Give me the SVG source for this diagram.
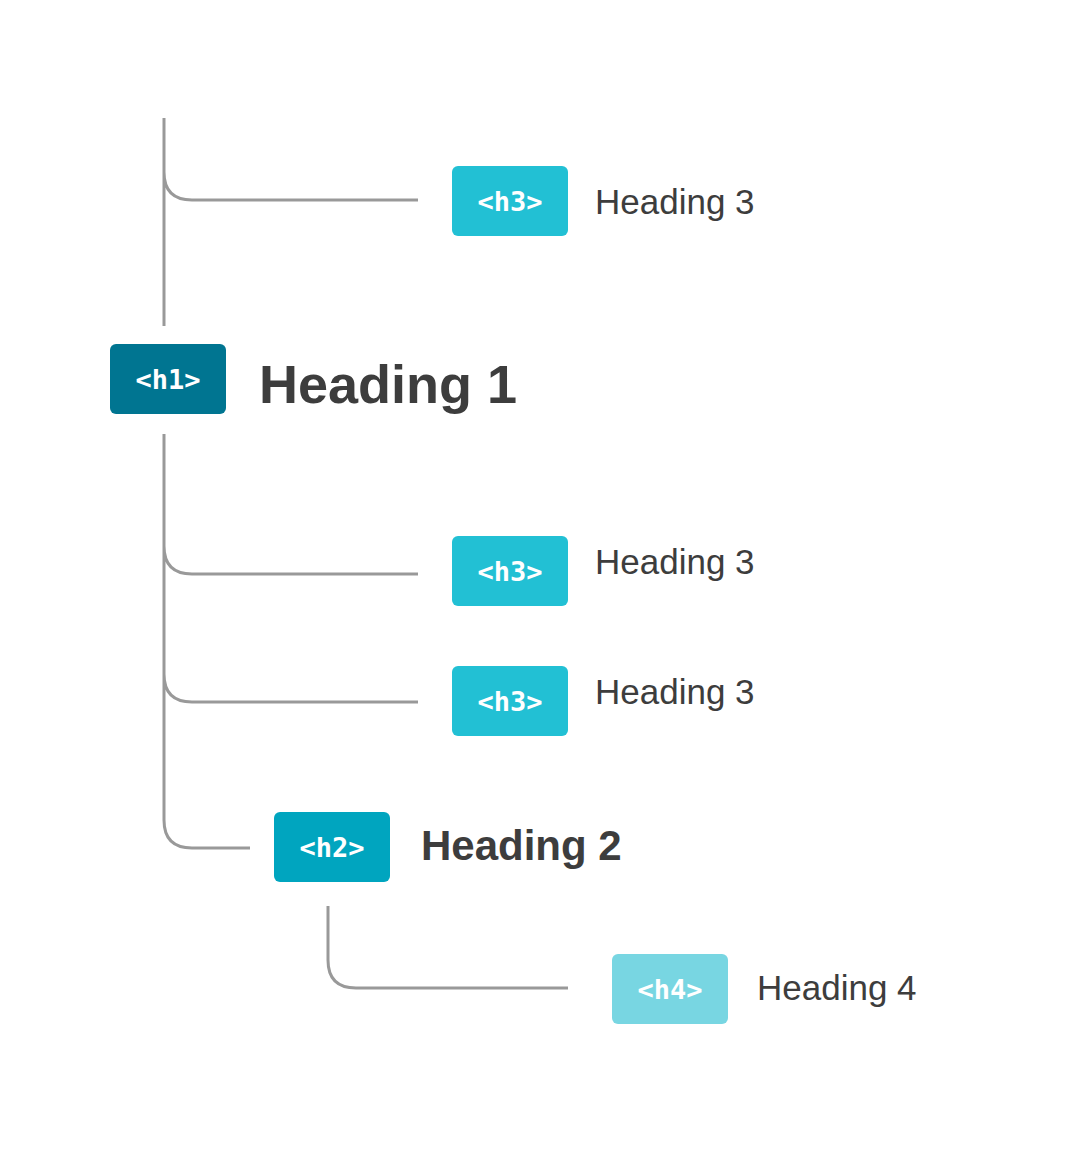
<svg xmlns="http://www.w3.org/2000/svg" width="1072" height="1174" viewBox="0 0 1072 1174">
<style>
.c{fill:none;stroke:#999;stroke-width:3}
.t{font-family:"DejaVu Sans Mono","Liberation Mono",monospace;font-weight:bold;font-size:27px;fill:#fff;text-anchor:middle}
.h{font-family:"Liberation Sans",Arial,sans-serif;fill:#3d3d3d}
</style>
<rect width="1072" height="1174" fill="#fff"/>
<g id="connectors">
<path class="c" d="M164 118V326M164 172Q164 200 192 200H418"/>
<path class="c" d="M164 434V820Q164 848 192 848H250M164 546Q164 574 192 574H418M164 674Q164 702 192 702H418"/>
<path class="c" d="M328 906V960Q328 988 356 988H568"/>
</g>
<g id="h1"><rect x="110" y="344" width="116" height="70" rx="6" fill="#007591"/><text class="t" x="168" y="389">&lt;h1&gt;</text><text class="h" x="259" y="403" font-size="54" font-weight="bold">Heading 1</text></g>
<g id="h3a"><rect x="452" y="166" width="116" height="70" rx="6" fill="#22c0d4"/><text class="t" x="510" y="211">&lt;h3&gt;</text><text class="h" x="595" y="214" font-size="35">Heading 3</text></g>
<g id="h3b"><rect x="452" y="536" width="116" height="70" rx="6" fill="#22c0d4"/><text class="t" x="510" y="581">&lt;h3&gt;</text><text class="h" x="595" y="574" font-size="35">Heading 3</text></g>
<g id="h3c"><rect x="452" y="666" width="116" height="70" rx="6" fill="#22c0d4"/><text class="t" x="510" y="711">&lt;h3&gt;</text><text class="h" x="595" y="704" font-size="35">Heading 3</text></g>
<g id="h2"><rect x="274" y="812" width="116" height="70" rx="6" fill="#00a5bf"/><text class="t" x="332" y="857">&lt;h2&gt;</text><text class="h" x="421" y="860" font-size="42" font-weight="bold">Heading 2</text></g>
<g id="h4"><rect x="612" y="954" width="116" height="70" rx="6" fill="#78d6e2"/><text class="t" x="670" y="999">&lt;h4&gt;</text><text class="h" x="757" y="1000" font-size="35">Heading 4</text></g>
</svg>
